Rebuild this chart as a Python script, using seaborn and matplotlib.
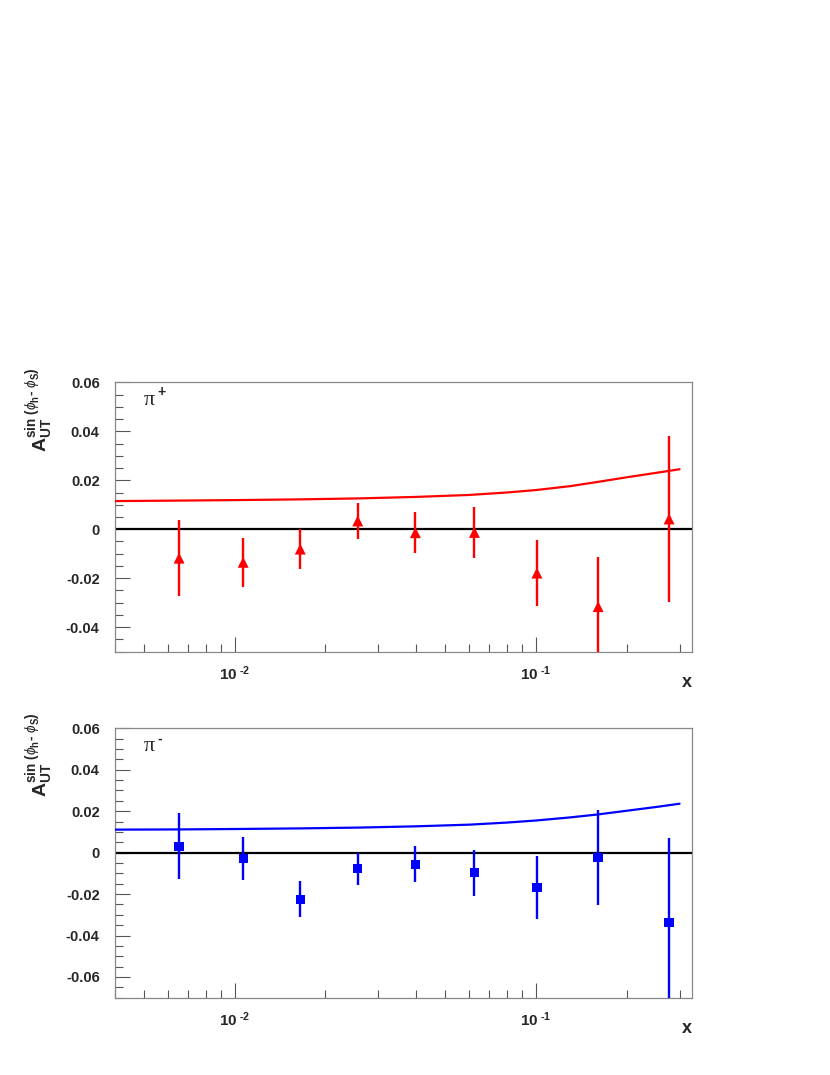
import numpy as np
import pandas as pd
import matplotlib
matplotlib.use("Agg")
import matplotlib.pyplot as plt
import seaborn as sns
from matplotlib.ticker import LogLocator, MultipleLocator, FuncFormatter, NullFormatter

# ---------------- data ----------------
x_bins = [0.00653, 0.01066, 0.0165, 0.0256, 0.0398, 0.0625, 0.1008, 0.161, 0.277]

pip_y = [-0.0118, -0.0135, -0.0081, 0.0034, -0.0014, -0.0013, -0.0179, -0.0316, 0.0042]
pip_err = [0.0155, 0.0100, 0.0081, 0.0073, 0.0083, 0.0103, 0.0136, 0.0202, 0.0340]

pim_y = [0.0031, -0.0029, -0.0225, -0.0078, -0.0056, -0.0097, -0.0167, -0.0025, -0.0338]
pim_err = [0.0159, 0.0104, 0.0087, 0.0078, 0.0088, 0.0111, 0.0151, 0.0230, 0.0410]

curve_x = [0.004, 0.0065, 0.01, 0.0165, 0.026, 0.04, 0.06, 0.08, 0.1, 0.13, 0.16, 0.2, 0.25, 0.3]
curve_pip = [0.0115, 0.0117, 0.0119, 0.0122, 0.0126, 0.0132, 0.0140, 0.0150, 0.0160, 0.0176,
             0.0193, 0.0212, 0.0230, 0.0245]
curve_pim = [0.0111, 0.0112, 0.0114, 0.0117, 0.0121, 0.0127, 0.0135, 0.0145, 0.0155, 0.0170,
             0.0184, 0.0202, 0.0220, 0.0236]

panels = [
    dict(name='π', sup='+', y=pip_y, err=pip_err, curve=curve_pip, color='#ff0000',
         marker='^', ms=62, ylim=(-0.05, 0.06), yticks=[-0.04, -0.02, 0, 0.02, 0.04, 0.06]),
    dict(name='π', sup='-', y=pim_y, err=pim_err, curve=curve_pim, color='#0000ff',
         marker='s', ms=45, ylim=(-0.07, 0.06), yticks=[-0.06, -0.04, -0.02, 0, 0.02, 0.04, 0.06]),
]

# ---------------- style ----------------
sns.set_style("white")
plt.rcParams['font.family'] = ['Liberation Sans', 'DejaVu Sans']
plt.rcParams['mathtext.fontset'] = 'custom'
plt.rcParams['mathtext.rm'] = 'Liberation Sans:bold'
plt.rcParams['mathtext.it'] = 'Liberation Sans:italic'
plt.rcParams['mathtext.bf'] = 'Liberation Sans:bold'
plt.rcParams['axes.unicode_minus'] = False

fig = plt.figure(figsize=(8.3, 10.75), dpi=100)
W, H = 830, 1075
ax_boxes = [(115, 382.3, 692, 651.7), (115, 728.3, 692, 997.7)]
ylabel_tops = [367, 712]

ylab = r'$\mathbf{A}_{\mathbf{UT}}^{\mathbf{sin}\ (\phi_{\mathbf{h}}\text{-}\ \phi_{\mathbf{S}})}$'

for p, (l, t, r, b), ltop in zip(panels, ax_boxes, ylabel_tops):
    ax = fig.add_axes([l / W, 1 - b / H, (r - l) / W, (b - t) / H])
    ax.set_xscale('log')
    ax.set_xlim(0.004, 0.33)
    ax.set_ylim(*p['ylim'])

    ax.axhline(0, color='black', lw=1.6, zorder=2)
    sns.lineplot(x=curve_x, y=p['curve'], ax=ax, color=p['color'], lw=1.6, zorder=3)
    ax.errorbar(x_bins, p['y'], yerr=p['err'], fmt='none', ecolor=p['color'],
                elinewidth=1.7, capsize=0, zorder=4)
    sns.scatterplot(x=x_bins, y=p['y'], ax=ax, marker=p['marker'], s=p['ms'],
                    color=p['color'], edgecolor='none', linewidth=0, zorder=5)

    # ticks
    ax.xaxis.set_major_locator(LogLocator(base=10, numticks=10))
    ax.xaxis.set_minor_locator(LogLocator(base=10, subs=np.arange(2, 10), numticks=20))
    ax.xaxis.set_minor_formatter(NullFormatter())
    ax.xaxis.set_major_formatter(FuncFormatter(
        lambda v, pos: r'10$^{\ \text{%d}}$' % int(round(np.log10(v)))))
    ax.set_yticks(p['yticks'])
    ax.yaxis.set_minor_locator(MultipleLocator(0.005))
    ax.yaxis.set_major_formatter(FuncFormatter(
        lambda v, pos: '0' if abs(v) < 1e-9 else '%.2f' % v))
    ax.tick_params(axis='both', which='major', direction='in', length=11, width=0.8,
                   color='#555555', top=False, right=False, bottom=True, left=True,
                   labelsize=10.5)
    ax.tick_params(axis='both', which='minor', direction='in', length=5.5, width=0.8,
                   color='#555555', top=False, right=False, bottom=True, left=True)
    ax.tick_params(axis='y', which='major', pad=11)
    ax.tick_params(axis='x', which='major', pad=9, labelsize=11)
    for lab in ax.get_xticklabels() + ax.get_yticklabels():
        lab.set_fontweight('bold')
    for s in ax.spines.values():
        s.set_color('#888888')
        s.set_linewidth(0.9)
    ax.set_xlabel('')
    ax.set_ylabel('')

    ax.text(0.05, 1 - 18 / 269.4, p['name'], transform=ax.transAxes, fontsize=16,
            family=['Liberation Serif', 'DejaVu Serif'], ha='left', va='center')
    ax.text(0.05 + 14 / 577, 1 - 10 / 269.4, p['sup'], transform=ax.transAxes, fontsize=10,
            fontweight='bold', ha='left', va='center')
    ax.text(0.991, -31 / 269.4, 'x', transform=ax.transAxes, fontsize=13,
            fontweight='bold', ha='center', va='center')
    fig.text(40 / W, 1 - ltop / H, ylab, rotation=90, ha='center', va='top', fontsize=14)

fig.savefig('out.png', dpi=100)
